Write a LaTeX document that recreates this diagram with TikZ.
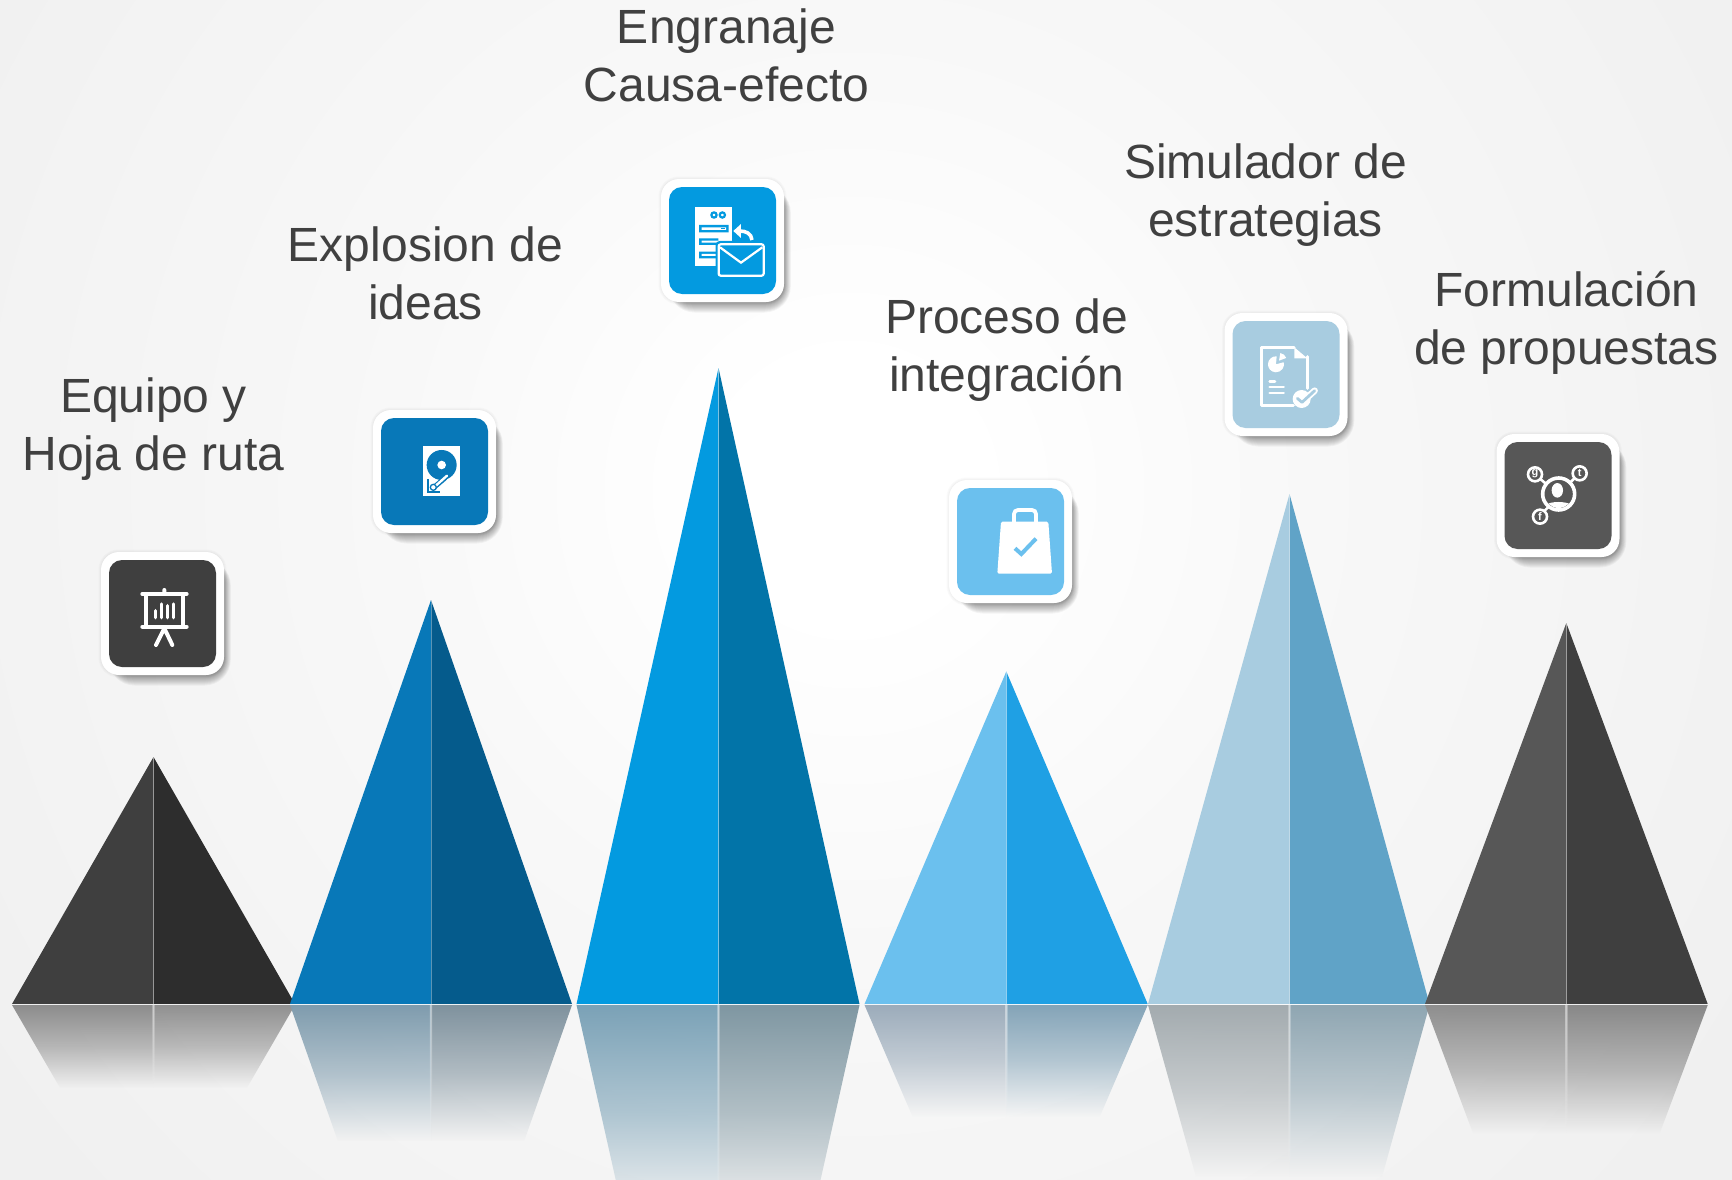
\documentclass[tikz,border=0pt]{standalone}
\usepackage{fontspec}
\setmainfont{Liberation Sans}
\usetikzlibrary{fadings}
\definecolor{txt}{HTML}{404040}
\definecolor{bgout}{HTML}{F0F0F0}
\definecolor{bgmid}{HTML}{F8F8F8}
\definecolor{cdark}{HTML}{3F3F3F}
\definecolor{cdarkb}{HTML}{2D2D2D}
\definecolor{cblue}{HTML}{0878B8}
\definecolor{cblueb}{HTML}{055B8C}
\definecolor{csky}{HTML}{039AE0}
\definecolor{cskyb}{HTML}{0274A8}
\definecolor{clight}{HTML}{6BC0EE}
\definecolor{clightb}{HTML}{1FA0E4}
\definecolor{cpale}{HTML}{A8CCE0}
\definecolor{cpaleb}{HTML}{60A3C7}
\definecolor{cgrey}{HTML}{575757}
\definecolor{rfa}{HTML}{8C8C8C}
\definecolor{rfb}{HTML}{909090}
\definecolor{rfc}{HTML}{7F9CAE}
\definecolor{rfd}{HTML}{7F929E}
\definecolor{rfe}{HTML}{7BA2B7}
\definecolor{rff}{HTML}{7F97A2}
\definecolor{rfg}{HTML}{9CACBB}
\definecolor{rfh}{HTML}{84A4B8}
\definecolor{rfi}{HTML}{A3ABAF}
\definecolor{rfj}{HTML}{8FA6B2}
\definecolor{rfk}{HTML}{8E8E8E}
\definecolor{rfl}{HTML}{888888}
\pgfdeclareradialshading{bgrad}{\pgfpoint{0bp}{0bp}}{color(0bp)=(white); color(3bp)=(white); color(11bp)=(bgmid); color(25bp)=(bgout); color(50bp)=(bgout)}
\pgfdeclareverticalshading{reffadeshade}{100bp}{color(0bp)=(transparent!100); color(25bp)=(transparent!100); color(50bp)=(transparent!42); color(75bp)=(transparent!0); color(100bp)=(transparent!0)}
\pgfdeclarefading{reffade}{\pgfuseshading{reffadeshade}}
\tikzset{
  label text/.style={text=txt, align=center, font=\fontsize{48}{58}\selectfont, inner sep=0pt},
  iconline/.style={draw=white, line cap=round, line join=round},
  small letter/.style={text=white, inner sep=0pt, font=\fontsize{11}{11}\selectfont\bfseries}
}
% L, apex x, R, apex y, left, right, reflection left, reflection right
\newcommand{\peak}[8]{%
  \fill[#5] (#1,1004) -- (#2,#4) -- (#2,1004) -- cycle;
  \fill[#6] (#3,1004) -- (#2,#4) -- (#2,1004) -- cycle;
  \draw[white, opacity=.35, line width=.8pt] (#2,#4) -- (#2,1004);
  \pgfmathsetmacro{\refd}{0.34*(1004-#4)}
  \pgfmathsetmacro{\refb}{1004+\refd}
  \pgfmathsetmacro{\refl}{#1+(#2-#1)*0.34}
  \pgfmathsetmacro{\refr}{#3-(#3-#2)*0.34}
  \fill[#7, path fading=reffade] (#1,1005) -- (#2,1005) -- (#2,\refb) -- (\refl,\refb) -- cycle;
  \fill[#8, path fading=reffade] (#3,1005) -- (#2,1005) -- (#2,\refb) -- (\refr,\refb) -- cycle;
  \begin{scope}
    \clip ({#2-1.2},1005) rectangle ({#2+1.2},\refb);
    \fill[white, opacity=.45, path fading=reffade] ({#2-60},1005) rectangle ({#2+60},\refb);
  \end{scope}
  \draw[white, opacity=.65, line width=1.2pt] (#1,1004.5) -- (#3,1004.5);
}
% center x, center y, colour
\newcommand{\card}[3]{%
  \foreach \s in {0,...,9}{
    \fill[black, opacity=.04, rounded corners={18+\s*0.9}]
      ({#1-61.5+12-\s*0.5},{#2-61.5+12-\s*0.5}) rectangle ({#1+61.5+0.5+\s*0.7},{#2+61.5+1.5+\s*1.0});
  }
  \foreach \s in {0,1,2}{
    \fill[black, opacity=.02, rounded corners={18+\s}]
      ({#1-61.5-\s-.5},{#2-61.5-\s-.5}) rectangle ({#1+61.5+\s+.5},{#2+61.5+\s+.5});
  }
  \fill[white, rounded corners=18] ({#1-61.5},{#2-61.5}) rectangle ({#1+61.5},{#2+61.5});
  \fill[#3, rounded corners=13] ({#1-53.5},{#2-53.5}) rectangle ({#1+53.5},{#2+53.5});
}
\begin{document}
\begin{tikzpicture}[x=1pt,y=-1pt]
\useasboundingbox (0,0) rectangle (1732,1180);
\clip (0,0) rectangle (1732,1180);
\fill[bgout] (0,0) rectangle (1732,1180);
\shade[shading=bgrad] (850,490) circle (1050);

\peak{12}{153.5}{295}{757}{cdark}{cdarkb}{rfa}{rfb}
\peak{290}{431}{572}{600}{cblue}{cblueb}{rfc}{rfd}
\peak{576.5}{718.5}{859.5}{368}{csky}{cskyb}{rfe}{rff}
\peak{864.5}{1006.3}{1147.7}{671.5}{clight}{clightb}{rfg}{rfh}
\peak{1148}{1289.5}{1429.5}{494}{cpale}{cpaleb}{rfi}{rfj}
\peak{1425}{1566.3}{1707.7}{623}{cgrey}{cdark}{rfk}{rfl}

\node[label text] (t1) at (153.4,429.5) {Equipo y\\Hoja de ruta};
\node[label text] (t2) at (425.4,273) {Explosion de\\ideas};
\node[label text] (t3) at (726.4,55) {Engranaje\\Causa-efecto};
\node[label text] (t4) at (1006.4,350) {Proceso de\\integración};
\node[label text] (t5) at (1265.4,195) {Simulador de\\estrategias};
\node[label text] (t6) at (1566.4,323) {Formulación\\de propuestas};

\card{162.5}{613.5}{cdark}
\card{434.5}{471.5}{cblue}
\card{722.5}{240.5}{csky}
\card{1010.5}{541.5}{clight}
\card{1286}{374.5}{cpale}
\card{1558}{495.5}{cgrey}

% icon 1: presentation board
\begin{scope}[shift={(90,540)},x=.3333pt,y=-.3333pt]
  \draw[iconline,line width=4pt] (157,162) -- (290,162) (157,260) -- (290,260);
  \draw[iconline,line width=3.5pt] (168,162) -- (168,260) (279,162) -- (279,260);
  \draw[iconline,line width=4pt] (223,150) -- (223,162) (223,265) -- (198,315) (223,265) -- (247,315);
  \draw[iconline,line width=3.4pt] (196,212) -- (196,233) (214,192) -- (214,233) (232,197) -- (232,233) (250,192) -- (250,233);
\end{scope}
% icon 2: hard disk
\begin{scope}[shift={(365,400)},x=.3333pt,y=-.3333pt]
  \fill[white] (175,138) rectangle (285,289);
  \fill[cblue] (230,195) circle (15pt);
  \fill[white] (230,195) circle (4.3pt);
  \draw[cblue,line width=2pt] (188,238) -- (188,275) -- (226,275);
  \draw[cblue,line width=5pt,line cap=round] (207,262) -- (240,234);
  \draw[white,line width=2.4pt,line cap=round] (207,262) -- (246,227);
  \fill[white,draw=cblue,line width=1.3pt] (205,262) circle (3pt);
\end{scope}
% icon 3: server and mail
\begin{scope}[shift={(650,170)},x=.3333pt,y=-.3333pt]
  \fill[white] (134,111) rectangle (246,288);
  \draw[csky,line width=2.2pt] (192,135) circle (2.6pt) (217,135) circle (2.6pt);
  \fill[csky] (147,165) rectangle (236,187) (147,205) rectangle (205,225) (147,245) rectangle (205,265);
  \fill[white] (155,172) rectangle (228,180) (155,212) rectangle (205,218) (155,252) rectangle (205,258);
  \fill[csky] (212,174) rectangle (224,178);
  \fill[csky,rounded corners=4pt] (197,213) rectangle (352,327);
  \draw[white,line width=2.2pt,rounded corners=2pt] (206,223) rectangle (341,317);
  \draw[white,line width=2.2pt] (210,232) -- (273,278) -- (337,232);
  \draw[white,line width=3.6pt] (306,210) .. controls (304,190) and (288,183) .. (268,183);
  \fill[white] (250,183) -- (273,162) -- (273,204) -- cycle;
\end{scope}
% icon 4: bag
\begin{scope}[shift={(940,470)},x=.3333pt,y=-.3333pt]
  \fill[white,rounded corners=1.5pt] (183,155) -- (325,155) -- (336,311) -- (172,311) -- cycle;
  \draw[white,line width=3.8pt,rounded corners=4pt] (222,160) -- (222,120) -- (288,120) -- (288,160);
  \draw[clight,line width=4pt] (225,235) -- (244,252) -- (288,206);
\end{scope}
% icon 5: report
\begin{scope}[shift={(1210,305)},x=.3333pt,y=-.3333pt]
  \draw[iconline,line width=3.2pt] (252,127) -- (155,127) -- (155,302) -- (250,302) (292,155) -- (292,250);
  \fill[white] (253,127) -- (292,160) -- (253,160) -- cycle;
  \fill[white] (198,178) -- (200,154) arc[start angle=85,end angle=375,radius=8pt] -- cycle;
  \fill[white] (207,167) -- (211,144) arc[start angle=80,end angle=20,radius=7.7pt] -- cycle;
  \draw[iconline,line width=2.6pt] (179,229) -- (195,229) (179,246) -- (221,246) (179,264) -- (221,264);
  \fill[white] (275,282) circle (9pt);
  \draw[white,line width=6.5pt,line cap=round,line join=round] (262,280) -- (276,292) -- (314,257);
  \draw[cpale,line width=2.8pt,line cap=round,line join=round] (262,280) -- (276,292) -- (314,257);
\end{scope}
% icon 6: social network
\begin{scope}[shift={(1485,425)},x=.3333pt,y=-.3333pt]
  \draw[white,line width=3.6pt] (221,207) circle (16pt);
  \begin{scope}
    \clip (221,207) circle (14pt);
    \fill[white] (180,262) -- (180,240) .. controls (200,228) and (240,228) .. (262,240) -- (262,262) -- cycle;
  \end{scope}
  \fill[white] (217,196) ellipse (5.7pt and 7.3pt);
  \draw[white,line width=2.6pt] (150,148) circle (7pt) (284,145) circle (7pt) (165,275) circle (7pt);
  \draw[white,line width=2.6pt] (167,163) -- (185,178) (268,160) -- (252,176) (178,258) -- (194,242);
  \node[small letter] (lg) at (150,146) {g};
  \node[small letter] (lt) at (284,145) {t};
  \node[small letter] (lf) at (165,275) {f};
\end{scope}
\end{tikzpicture}
\end{document}
